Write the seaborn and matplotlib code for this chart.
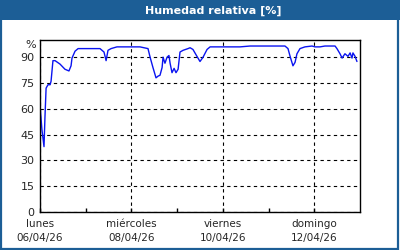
import matplotlib
matplotlib.use("Agg")
import matplotlib.pyplot as plt
import matplotlib.patches as mpatches
import seaborn as sns
import pandas as pd

# --- data (hours since 06/04/26 00:00, relative humidity %) ---
hours = [0, 0.5, 1.0, 2.1, 2.6, 3.2, 4.2, 5.3, 5.8, 6.8, 7.9, 10.5, 13.1, 15.2,
         16.3, 16.8, 18.4, 20.0, 26.3, 31.5, 33.6, 34.7, 35.7, 37.3, 40.4,
         52.5, 54.6, 56.7, 57.8, 59.3, 60.9, 62.0, 63.0, 64.1, 64.6, 65.6,
         66.7, 67.7, 68.3, 69.3, 70.4, 71.4, 72.5, 73.5, 75.1, 77.7, 78.8,
         80.3, 82.4, 84.0, 85.6, 87.7, 89.3, 105.0, 110.3, 118.1, 128.6,
         130.2, 131.3, 132.8, 133.9, 134.9, 136.5, 139.1, 142.8, 144.4, 147.0,
         149.6, 154.9, 155.9, 157.5, 158.6, 160.1, 161.7, 162.8, 163.8, 164.3,
         165.4, 166.4]
humidity = [62, 55, 48, 38, 55, 72, 74, 74, 76, 88, 88, 86, 83, 82,
            85, 89.5, 93.5, 95, 95, 95, 93, 88, 94, 95, 96,
            96, 95.5, 95, 90, 84, 78, 79, 79.5, 84, 90, 86.5,
            90, 91, 86.5, 81, 83.5, 81, 83, 93, 94, 95, 95.5,
            94.5, 90.5, 87.5, 90, 94.5, 96, 96, 96.5, 96.5, 96.5,
            95, 90.5, 85, 87, 92, 95, 96, 96.5, 96, 96,
            96.5, 96.5, 95, 92, 89.5, 92, 90.5, 92.5, 89.5, 92.5,
            90.5, 87.5]
major_days = [0, 2, 4, 6]
major_labels = ["lunes\n06/04/26", "miércoles\n08/04/26",
                "viernes\n10/04/26", "domingo\n12/04/26"]
minor_days = [1, 3, 5]
y_ticks = [0, 15, 30, 45, 60, 75, 90]
title = "Humedad relativa [%]"

df = pd.DataFrame({"day": [h / 24 for h in hours], "hr": humidity})

sns.set_style("white")
plt.rcParams['font.family'] = ['DejaVu Sans']

fig = plt.figure(figsize=(4, 2.5), dpi=100)
fig.patch.set_facecolor("white")
bar_col = "#1c5e96"

# title bar
fig.patches.append(mpatches.Rectangle((0, 1 - 20 / 250), 1, 20 / 250,
                                      transform=fig.transFigure,
                                      facecolor=bar_col, edgecolor="none", zorder=0))
# border
fig.patches.append(mpatches.Rectangle((0.002, 0.004), 0.993, 0.99,
                                      transform=fig.transFigure,
                                      facecolor="none", edgecolor=bar_col,
                                      linewidth=1.6, zorder=0))
fig.text(213 / 400, 1 - 10.5 / 250, title, color="white", fontsize=8,
         fontweight="bold", ha="center", va="center")

ax = fig.add_axes([40 / 400, 38 / 250, 320 / 400, 172 / 250])
sns.lineplot(data=df, x="day", y="hr", ax=ax, color="#0a14f0", linewidth=1.0)

ax.set_xlim(0, 7)
ax.set_ylim(0, 100)
ax.set_xlabel("")
ax.set_ylabel("")
ax.set_xticks(major_days)
ax.set_xticklabels(major_labels, fontsize=7.5, linespacing=1.45)
ax.set_xticks(minor_days, minor=True)
ax.set_yticks(y_ticks)
ax.set_yticklabels([str(v) for v in y_ticks], fontsize=8)
ax.tick_params(axis="x", which="both", direction="in", length=3, width=1,
               color="black", pad=5, bottom=True)
ax.tick_params(axis="y", length=0, pad=4)
for sp in ax.spines.values():
    sp.set_color("black")
    sp.set_linewidth(1)
ax.grid(True, which="major", axis="both", color="black", linestyle=(0, (3, 3)),
        linewidth=0.8)
ax.text(-0.012, 97, "%", transform=ax.get_yaxis_transform(), ha="right",
        va="center", fontsize=8)

fig.savefig("out.png", dpi=100)
